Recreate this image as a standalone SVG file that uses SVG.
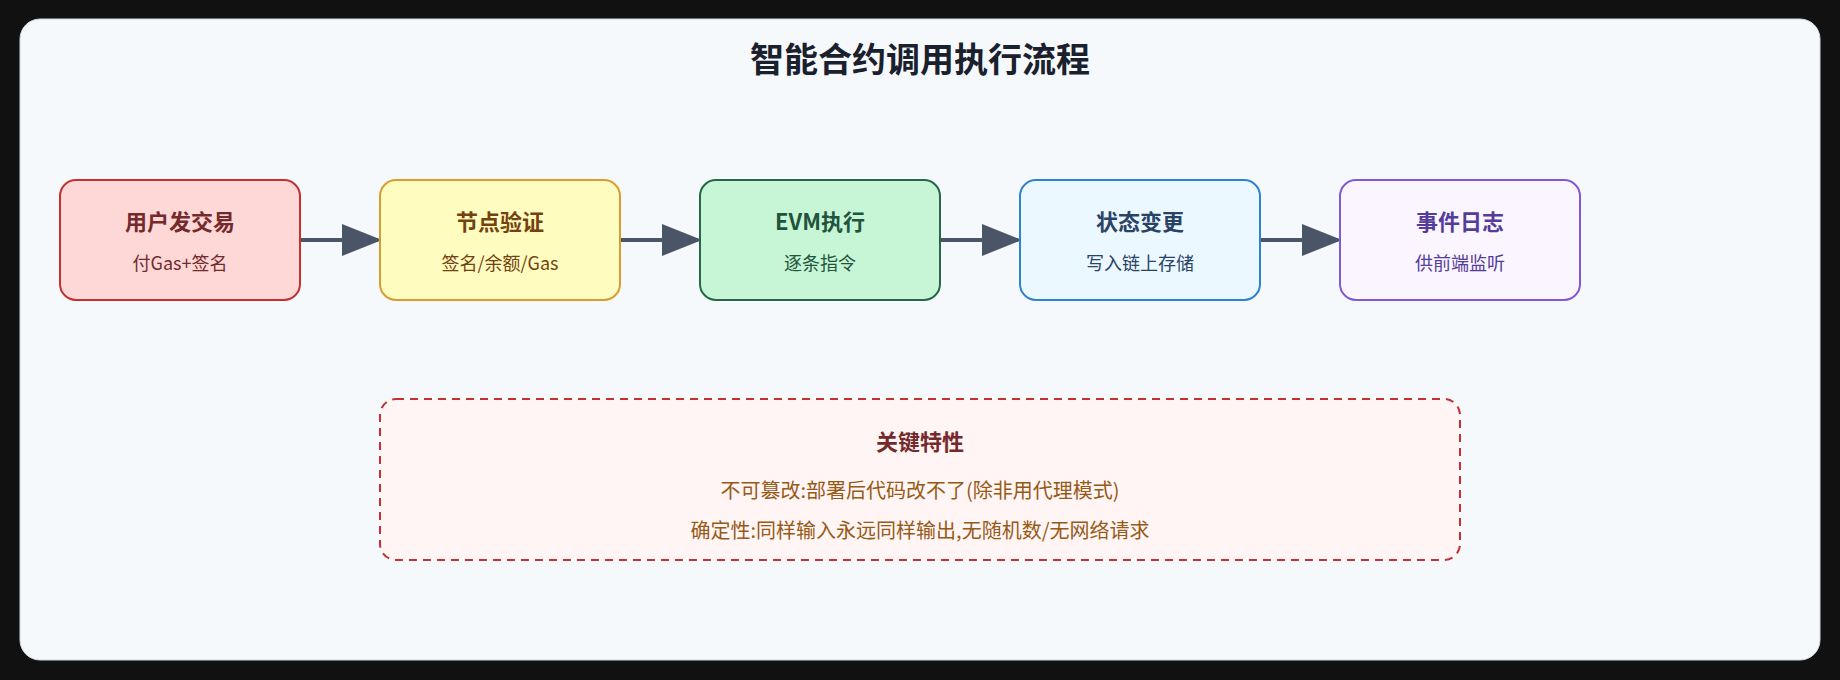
<svg xmlns="http://www.w3.org/2000/svg" width="1840" height="680" viewBox="0 0 1840 680">
<defs>
<style>
text{font-family:"Noto Sans CJK SC","Noto Sans",sans-serif;text-anchor:middle}
.t{font-size:22px;font-weight:bold}
.s{font-size:18px}
.n{stroke-width:2}
.c{stroke:#4a5568;stroke-width:4;fill:none;marker-end:url(#a)}
</style>
<marker id="a" markerWidth="10" markerHeight="8" refX="9" refY="4" orient="auto" markerUnits="strokeWidth"><path d="M0,0 L10,4 L0,8 Z" fill="#4a5568"/></marker>
</defs>
<rect width="1840" height="680" fill="#111111"/>
<rect x="20" y="19" width="1800" height="641" rx="20" fill="#f5f9fc" stroke="#d0d7de"/>
<text x="920" y="72" style="font-size:34px;font-weight:bold" fill="#1a202c">智能合约调用执行流程</text>
<g id="connectors">
<line class="c" x1="301" y1="240" x2="378" y2="240"/>
<line class="c" x1="621" y1="240" x2="698" y2="240"/>
<line class="c" x1="941" y1="240" x2="1018" y2="240"/>
<line class="c" x1="1261" y1="240" x2="1338" y2="240"/>
</g>
<g id="n1"><rect class="n" x="60" y="180" width="240" height="120" rx="16" fill="#fed7d7" stroke="#c53030"/><text class="t" x="180" y="230" fill="#742a2a">用户发交易</text><text class="s" x="180" y="270" fill="#742a2a">付Gas+签名</text></g>
<g id="n2"><rect class="n" x="380" y="180" width="240" height="120" rx="16" fill="#fefcbf" stroke="#d69e2e"/><text class="t" x="500" y="230" fill="#744210">节点验证</text><text class="s" x="500" y="270" fill="#744210">签名/余额/Gas</text></g>
<g id="n3"><rect class="n" x="700" y="180" width="240" height="120" rx="16" fill="#c6f6d5" stroke="#276749"/><text class="t" x="820" y="230" fill="#22543d">EVM执行</text><text class="s" x="820" y="270" fill="#22543d">逐条指令</text></g>
<g id="n4"><rect class="n" x="1020" y="180" width="240" height="120" rx="16" fill="#ebf8ff" stroke="#3182ce"/><text class="t" x="1140" y="230" fill="#2a4365">状态变更</text><text class="s" x="1140" y="270" fill="#2a4365">写入链上存储</text></g>
<g id="n5"><rect class="n" x="1340" y="180" width="240" height="120" rx="16" fill="#faf5ff" stroke="#805ad5"/><text class="t" x="1460" y="230" fill="#553c9a">事件日志</text><text class="s" x="1460" y="270" fill="#553c9a">供前端监听</text></g>
<g id="note"><rect x="380" y="399" width="1080" height="161" rx="16" fill="#fff5f5" stroke="#c53030" stroke-width="2" stroke-dasharray="8,6"/>
<text class="t" x="920" y="450" fill="#742a2a">关键特性</text>
<text x="920" y="498" style="font-size:20px" fill="#975a16">不可篡改:部署后代码改不了(除非用代理模式)</text>
<text x="920" y="538" style="font-size:20px" fill="#975a16">确定性:同样输入永远同样输出,无随机数/无网络请求</text></g>
</svg>
